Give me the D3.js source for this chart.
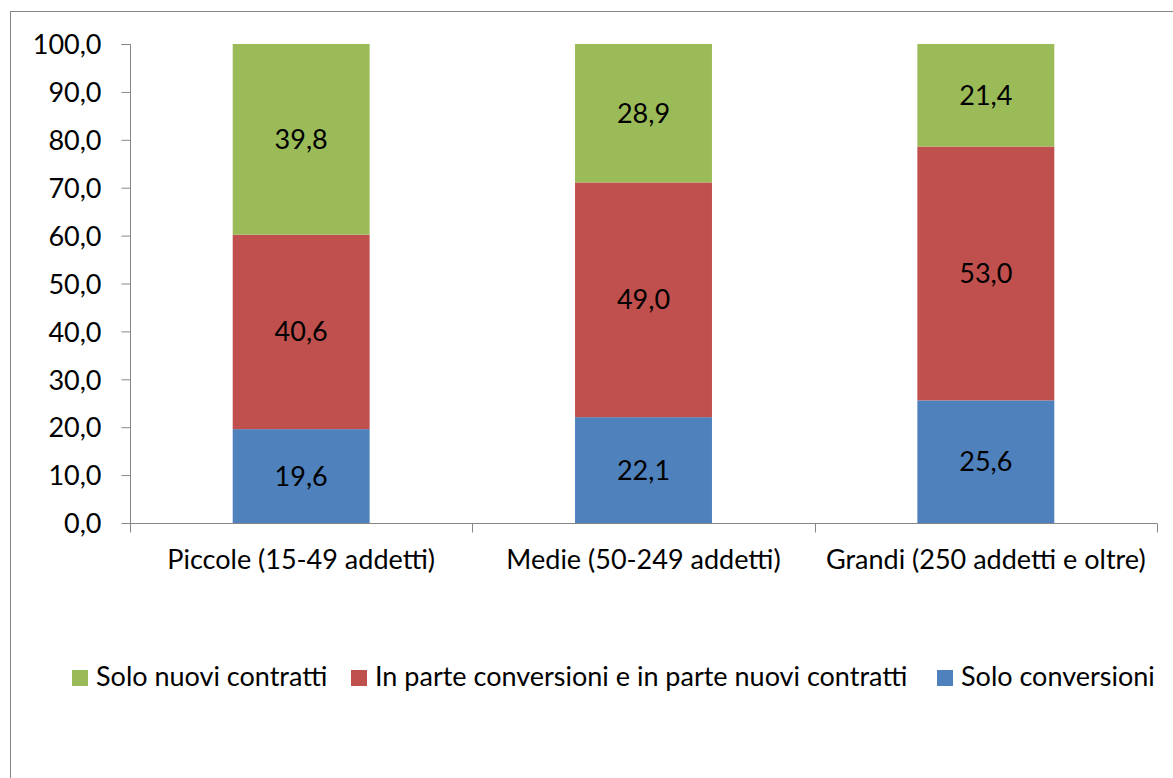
<!DOCTYPE html>
<html>
<head>
<meta charset="utf-8">
<script src="https://cdn.jsdelivr.net/npm/d3@7"></script>
<style>
  html, body { margin: 0; padding: 0; background: #fff; }
  svg { display: block; }
  text { font-family: Lato, "Open Sans", sans-serif; fill: #000; }
</style>
</head>
<body>
<svg id="chart" width="1173" height="778"></svg>
<script>
const categories = ["Piccole (15-49 addetti)", "Medie (50-249 addetti)", "Grandi (250 addetti e oltre)"];
const seriesNames = ["Solo conversioni", "In parte conversioni e in parte nuovi contratti", "Solo nuovi contratti"];
const soloConversioni = [19.6, 22.1, 25.6];
const inParte = [40.6, 49.0, 53.0];
const soloNuovi = [39.8, 28.9, 21.4];
const yTicks = [0, 10, 20, 30, 40, 50, 60, 70, 80, 90, 100];
const colors = ["#4F81BD", "#C0504D", "#9BBB59"];
const legendOrder = [2, 1, 0];

const svg = d3.select("#chart");
const W = 1173, H = 778;
const fs = 27;
const fmt = v => v.toFixed(1).replace(".", ",");

// outer border
svg.append("rect").attr("x", 10.5).attr("y", 11.5).attr("width", W).attr("height", H)
  .attr("fill", "none").attr("stroke", "#868686").attr("stroke-width", 1);

const x = d3.scaleBand().domain(categories).range([130, 1157]).padding(0);
const y = d3.scaleLinear().domain([0, 100]).range([523, 44]);

const rows = categories.map((c, i) => ({cat: c, v0: soloConversioni[i], v1: inParte[i], v2: soloNuovi[i]}));
const stack = d3.stack().keys(["v0", "v1", "v2"]);
const layers = stack(rows);

const barW = x.bandwidth() * 0.4;

const g = svg.append("g");
layers.forEach((layer, li) => {
  g.selectAll(null).data(layer).enter().append("rect")
    .attr("x", d => x(d.data.cat) + (x.bandwidth() - barW) / 2)
    .attr("y", d => y(d[1]))
    .attr("width", barW)
    .attr("height", d => y(d[0]) - y(d[1]))
    .attr("fill", colors[li]);
  g.selectAll(null).data(layer).enter().append("text")
    .attr("x", d => x(d.data.cat) + x.bandwidth() / 2)
    .attr("y", d => (y(d[0]) + y(d[1])) / 2)
    .attr("dy", "0.35em")
    .attr("text-anchor", "middle")
    .attr("font-size", fs)
    .text(d => fmt(d[1] - d[0]));
});

// y axis
const yAxis = d3.axisLeft(y).tickValues(yTicks).tickFormat(fmt).tickSize(9).tickPadding(20);
const ya = svg.append("g").attr("transform", "translate(130.5,0)").call(yAxis);
ya.selectAll("path, line").attr("stroke", "#868686");
ya.select("path").attr("d", `M-9,${y(100)+0.5}H0V${y(0)+0.5}`);
ya.selectAll(".tick").attr("transform", d => `translate(0,${y(d)+0.5})`);
ya.selectAll("text").attr("font-size", fs).attr("font-family", "Lato").attr("fill", "#000").attr("dy", "0.36em");

// x axis
const xa = svg.append("g").attr("transform", "translate(0,523.5)");
xa.append("line").attr("x1", 130).attr("x2", 1157).attr("stroke", "#868686");
const bounds = [130, ...categories.map(c => x(c) + x.bandwidth())];
xa.selectAll(null).data(bounds).enter().append("line")
  .attr("x1", d => Math.round(d) + 0.5).attr("x2", d => Math.round(d) + 0.5)
  .attr("y1", 0).attr("y2", 9).attr("stroke", "#868686");
xa.selectAll(null).data(categories).enter().append("text")
  .attr("x", d => x(d) + x.bandwidth() / 2)
  .attr("y", 45)
  .attr("text-anchor", "middle")
  .attr("font-size", fs)
  .text(d => d);

// legend
const legend = svg.append("g").attr("transform", "translate(0,686)");
const legendX = [72, 351, 937];
legendOrder.forEach((si, k) => {
  const lg = legend.append("g").attr("transform", `translate(${legendX[k]},0)`);
  lg.append("rect").attr("x", 0).attr("y", -16).attr("width", 16).attr("height", 16).attr("fill", colors[si]);
  lg.append("text").attr("x", 24).attr("y", 0).attr("font-size", fs).text(seriesNames[si]);
});
</script>
</body>
</html>
